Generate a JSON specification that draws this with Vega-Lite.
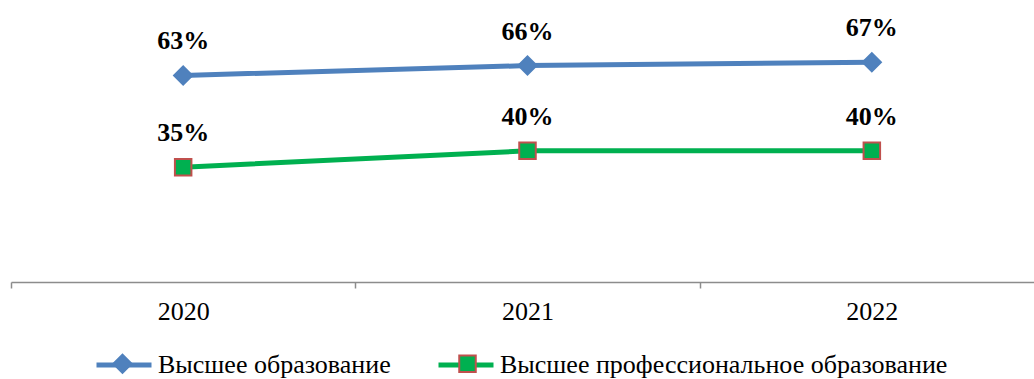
{
  "$schema": "https://vega.github.io/schema/vega-lite/v6.json",
  "width": 1033,
  "height": 282,
  "autosize": {"type": "none"},
  "padding": {"left": 11, "top": 0, "right": 0, "bottom": 97},
  "background": "white",
  "config": {"view": {"stroke": null}, "font": "Liberation Serif"},
  "data": {"values": [
    {"year": "2020", "value": 0.63, "label": "63%", "series": "Высшее образование", "series2": "Высшее образование"},
    {"year": "2021", "value": 0.66, "label": "66%", "series": "Высшее образование", "series2": "Высшее образование"},
    {"year": "2022", "value": 0.67, "label": "67%", "series": "Высшее образование", "series2": "Высшее образование"},
    {"year": "2020", "value": 0.35, "label": "35%", "series": "Высшее профессиональное образование", "series2": "Высшее профессиональное образование"},
    {"year": "2021", "value": 0.40, "label": "40%", "series": "Высшее профессиональное образование", "series2": "Высшее профессиональное образование"},
    {"year": "2022", "value": 0.40, "label": "40%", "series": "Высшее профессиональное образование", "series2": "Высшее профессиональное образование"}
  ]},
  "encoding": {
    "x": {"field": "year", "type": "ordinal", "scale": {"paddingInner": 0, "paddingOuter": 0},
      "axis": {"title": null, "labelAngle": 0, "labelFont": "Liberation Serif", "labelFontSize": 26, "labelColor": "black",
        "domainColor": "#8c8c8c", "domainWidth": 1.5, "tickColor": "#8c8c8c", "tickWidth": 1.5, "tickSize": 6, "tickBand": "extent", "labelPadding": 10}},
    "y": {"field": "value", "type": "quantitative", "scale": {"domain": [0, 0.86]}, "axis": null}
  },
  "layer": [
    {
      "mark": {"type": "line", "strokeWidth": 5},
      "encoding": {
        "color": {"field": "series", "type": "nominal",
          "scale": {"domain": ["Высшее образование", "Высшее профессиональное образование"], "range": ["#4F81BD", "#00B050"]},
          "legend": {"orient": "none", "legendX": 83, "legendY": 335, "direction": "horizontal", "title": null,
            "symbolType": "stroke", "symbolSize": 3025, "symbolStrokeWidth": 5,
            "labelFont": "Liberation Serif", "labelFontSize": 26, "labelColor": "black", "labelOffset": 4, "labelLimit": 600,
            "columnPadding": 37}}
      }
    },
    {
      "mark": {"type": "point", "filled": true, "size": 3025, "strokeWidth": 2, "opacity": 1},
      "encoding": {
        "shape": {"field": "series2", "type": "nominal",
          "scale": {"range": ["M-0.33,0L0,-0.33L0.33,0L0,0.33Z", "M-0.3,-0.3H0.3V0.3H-0.3Z"]},
          "legend": {"orient": "none", "legendX": 83, "legendY": 335, "direction": "horizontal", "title": null,
            "symbolSize": 3025, "symbolStrokeWidth": 2, "symbolOpacity": 1,
            "labelFont": "Liberation Serif", "labelFontSize": 26, "labelExpr": "''", "labelOffset": 4, "labelLimit": 600,
            "columnPadding": 284}},
        "fill": {"field": "series2", "type": "nominal",
          "scale": {"range": ["#4F81BD", "#00B050"]}},
        "stroke": {"field": "series2", "type": "nominal",
          "scale": {"range": ["#4F81BD", "#C0504D"]}}
      }
    },
    {
      "mark": {"type": "text", "font": "Liberation Serif", "fontWeight": "bold", "fontSize": 26, "dy": -26, "baseline": "alphabetic", "color": "black"},
      "encoding": {"text": {"field": "label"}}
    }
  ]
}
